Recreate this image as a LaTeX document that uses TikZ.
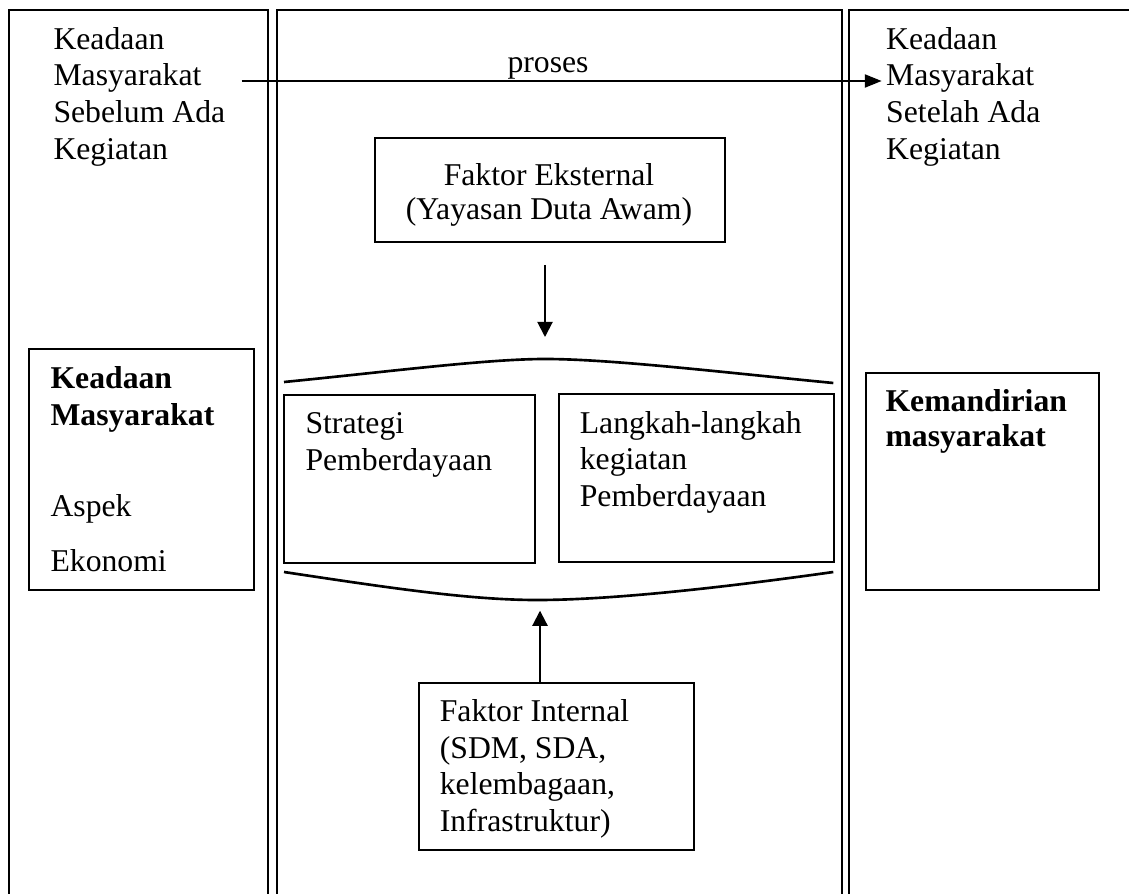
\documentclass[tikz,border=0pt]{standalone}
\usepackage{fontspec}
\setmainfont{Liberation Serif}
\usetikzlibrary{arrows.meta}
\begin{document}
\begin{tikzpicture}[x=0.3785pt,y=-0.3785pt,
  frame/.style={line width=0.7pt},
  box/.style={draw, line width=0.8pt, inner sep=0pt, anchor=north west},
  boxwh/.style 2 args={minimum width=#1*0.3785pt, minimum height=#2*0.3785pt},
  txt/.style={inner sep=0pt, anchor=base west, align=left, font=\fontsize{12}{13.9}\selectfont},
  curve/.style={line width=1pt},
  arr/.style={line width=0.75pt, -{Triangle[length=5.7pt,width=5.7pt]}},
  parr/.style={line width=0.85pt, -{Triangle[length=6.4pt,width=4.9pt]}}]
\useasboundingbox (0,0) rectangle (1129,893);
% table cells
\draw[frame] (9,900) -- (9,10) -- (268,10) -- (268,900);
\draw[frame] (277,900) -- (277,10) -- (842,10) -- (842,900);
\draw[frame] (849,900) -- (849,10) -- (1140,10);
% texts in top row (anchor base = baseline of last line)
\node[txt] (tl) at (53,159.3) {Keadaan\\Masyarakat\\Sebelum Ada\\Kegiatan};
\node[txt] (tr) at (885.7,159.3) {Keadaan\\Masyarakat\\Setelah Ada\\Kegiatan};
\node[txt, anchor=base] (proses) at (548,73) {proses};
\coordinate (ps) at (241.7,81);
\coordinate (pe) at (881.7,81);
\draw[parr] (ps) -- (pe);
% Faktor Eksternal
\node[box, boxwh={350}{103.4}] (ext) at (374,137.3) {};
\node[txt, anchor=base, align=center, font=\fontsize{12}{13}\selectfont] (extt) at (549,220) {Faktor Eksternal\\(Yayasan Duta Awam)};
\coordinate (d1) at (545,265);
\coordinate (d2) at (545,337);
\draw[arr] (d1) -- (d2);
% curves
\draw[curve] (284,382) .. controls (386,372) and (486,359) .. (545,359) .. controls (610,359) and (720,372) .. (833.3,383);
\draw[curve] (284,572) .. controls (390,588) and (470,600) .. (537,600) .. controls (610,600) and (720,588) .. (833.3,572);
% middle boxes
\node[box, boxwh={250.7}{167.7}] (strat) at (283.3,394) {};
\node[txt] (stratt) at (305,470) {Strategi\\Pemberdayaan};
\node[box, boxwh={275.6}{167.7}] (lang) at (557.7,393.3) {};
\node[txt] (langt) at (579.3,506.7) {Langkah-langkah\\kegiatan\\Pemberdayaan};
% Faktor Internal
\node[box, boxwh={274.4}{167}] (int) at (418.3,682.3) {};
\node[txt] (intt) at (439.3,831.7) {Faktor Internal\\(SDM, SDA,\\kelembagaan,\\Infrastruktur)};
\coordinate (u1) at (540,610.7);
\draw[arr] (int.north -| u1) -- (u1);
% left box
\node[box, boxwh={225.3}{241}] (kead) at (28,348.3) {};
\node[txt] (keadt) at (50,571.7) {\textbf{Keadaan}\\\textbf{Masyarakat}\\[20.8pt]Aspek\\[6.9pt]Ekonomi};
% right box
\node[box, boxwh={232.7}{217}] (mand) at (865,372.3) {};
\node[txt, font=\fontsize{12}{13.25}\selectfont] (mandt) at (885,446.7) {\textbf{Kemandirian}\\\textbf{masyarakat}};
\end{tikzpicture}
\end{document}
